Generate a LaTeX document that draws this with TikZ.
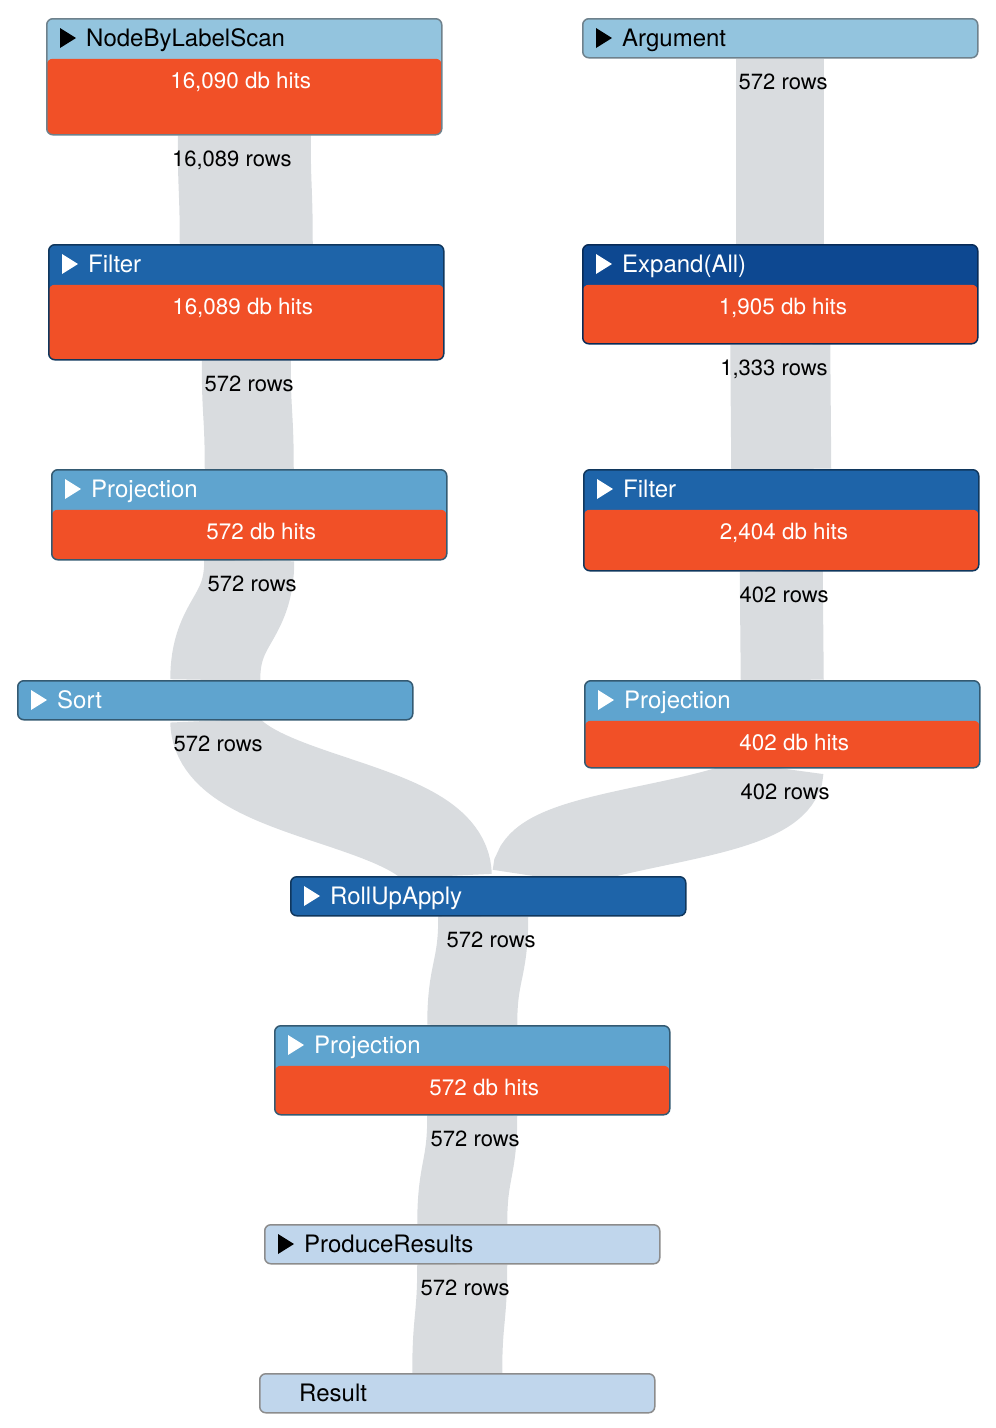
\documentclass[tikz,border=0pt]{standalone}
\usepackage{fontspec}
\setmainfont{TeX Gyre Heros}
\usetikzlibrary{positioning,calc,backgrounds}

\definecolor{hdrlight}{HTML}{93C4DE}
\definecolor{hdrmid}{HTML}{5FA4CF}
\definecolor{hdrdark}{HTML}{1E64A9}
\definecolor{hdrdeep}{HTML}{0D4891}
\definecolor{hdrpale}{HTML}{C0D6EC}
\definecolor{hitsred}{HTML}{F15027}
\definecolor{flowgray}{HTML}{D9DCDF}

\tikzset{
  op/.style={rectangle, rounded corners=6pt, line width=1.5pt, minimum width=395pt,
    minimum height=39pt, anchor=north west, inner sep=0pt},
  light/.style={op, fill=hdrlight, draw=hdrlight!50!black!80},
  mid/.style={op, fill=hdrmid, draw=hdrmid!55!black},
  dark/.style={op, fill=hdrdark, draw=hdrdark!55!black},
  deep/.style={op, fill=hdrdeep, draw=hdrdeep!60!black},
  pale/.style={op, fill=hdrpale, draw=black!45},
  hits/.style={minimum height=#1,
    path picture={\fill[hitsred] ([yshift=-40pt]path picture bounding box.north west)
      rectangle (path picture bounding box.south east);}},
  optitle/.style={anchor=base west, inner sep=0pt, font=\fontsize{24}{28}\selectfont},
  hitstext/.style={anchor=base east, inner sep=0pt, text=white, font=\fontsize{22.4}{26}\selectfont},
  rowstext/.style={anchor=base east, inner sep=0pt, font=\fontsize{22}{26}\selectfont},
  flow/.style={draw=flowgray, line width=#1},
}

% triangle and name in the header of an operator box
\newcommand{\opname}[3]{%
  \fill[#2] ([xshift=14pt,yshift=-10pt]#1.north west) -- ++(16pt,-10pt) -- ++(-16pt,-10pt) -- cycle;
  \node[optitle, text=#2] (#1-name) at ([xshift=40pt,yshift=-28pt]#1.north west) {#3};
}
\newcommand{\ophits}[2]{%
  \node[hitstext] (#1-hits) at ([xshift=67pt,yshift=-70pt]#1.north) {#2};
}
\newcommand{\oprows}[2]{%
  \node[rowstext] (#1-rows) at ([xshift=47.5pt,yshift=-31pt]#1.south) {#2};
}

\begin{document}
\begin{tikzpicture}[x=1pt,y=-1pt]
\useasboundingbox (0,0) rectangle (996,1428);

% operator boxes
\node[light, hits=116pt] (scan) at (46,18) {};
\node[light] (arg) at (582,18) {};
\node[dark, hits=115pt] (filterL) at (48,244) {};
\node[deep, hits=99pt] (expand) at (582,244) {};
\node[mid, hits=90pt] (projL) at (51,469) {};
\node[dark, hits=101pt] (filterR) at (583,469) {};
\node[mid] (sort) at (17,680) {};
\node[mid, hits=87pt] (projR) at (584,680) {};
\node[dark] (rollup) at (290,876) {};
\node[mid, hits=89pt] (projB) at (274,1025) {};
\node[pale] (produce) at (264,1224) {};
\node[pale] (result) at (259,1373) {};

\opname{scan}{black}{NodeByLabelScan}
\opname{arg}{black}{Argument}
\opname{filterL}{white}{Filter}
\opname{expand}{white}{Expand(All)}
\opname{projL}{white}{Projection}
\opname{filterR}{white}{Filter}
\opname{sort}{white}{Sort}
\opname{projR}{white}{Projection}
\opname{rollup}{white}{RollUpApply}
\opname{projB}{white}{Projection}
\opname{produce}{black}{ProduceResults}
\node[optitle] (result-name) at ([xshift=40pt,yshift=-28pt]result.north west) {Result};

\ophits{scan}{16,090 db hits}
\ophits{filterL}{16,089 db hits}
\ophits{expand}{1,905 db hits}
\ophits{projL}{572 db hits}
\ophits{filterR}{2,404 db hits}
\ophits{projR}{402 db hits}
\ophits{projB}{572 db hits}

% row flows
\begin{scope}[on background layer]
  \draw[flow=133pt] (scan.south) .. controls +(0,55) and +(0,-55) .. (filterL.north);
  \draw[flow=88pt] (arg.south) .. controls +(0,93) and +(0,-93) .. (expand.north);
  \draw[flow=89pt] (filterL.south) .. controls +(0,55) and +(0,-55) .. (projL.north);
  \draw[flow=100pt] (expand.south) .. controls +(0,63) and +(0,-63) .. (filterR.north);
  \draw[flow=90pt] (projL.south) .. controls +(0,60) and +(0,-60) .. (sort.north);
  \draw[flow=83pt] (filterR.south) .. controls +(0,55) and +(0,-55) .. (projR.north);
  \draw[flow=90pt] (sort.south) .. controls +(0,80) and +(0,-76) .. ([xshift=-41.5pt]rollup.north);
  \draw[flow=83pt] (projR.south) .. controls +(0,58) and +(0,-52) .. ([xshift=45.5pt]rollup.north);
  \draw[flow=90pt] ([xshift=-5pt]rollup.south) .. controls +(0,55) and +(0,-55) .. (projB.north);
  \draw[flow=90pt] (projB.south) .. controls +(0,55) and +(0,-55) .. (produce.north);
  \draw[flow=90pt] (produce.south) .. controls +(0,55) and +(0,-55) .. (result.north);
\end{scope}

\oprows{scan}{16,089 rows}
\oprows{arg}{572 rows}
\oprows{filterL}{572 rows}
\oprows{expand}{1,333 rows}
\oprows{projL}{572 rows}
\oprows{filterR}{402 rows}
\oprows{sort}{572 rows}
\oprows{projR}{402 rows}
\oprows{rollup}{572 rows}
\oprows{projB}{572 rows}
\oprows{produce}{572 rows}
\end{tikzpicture}
\end{document}
